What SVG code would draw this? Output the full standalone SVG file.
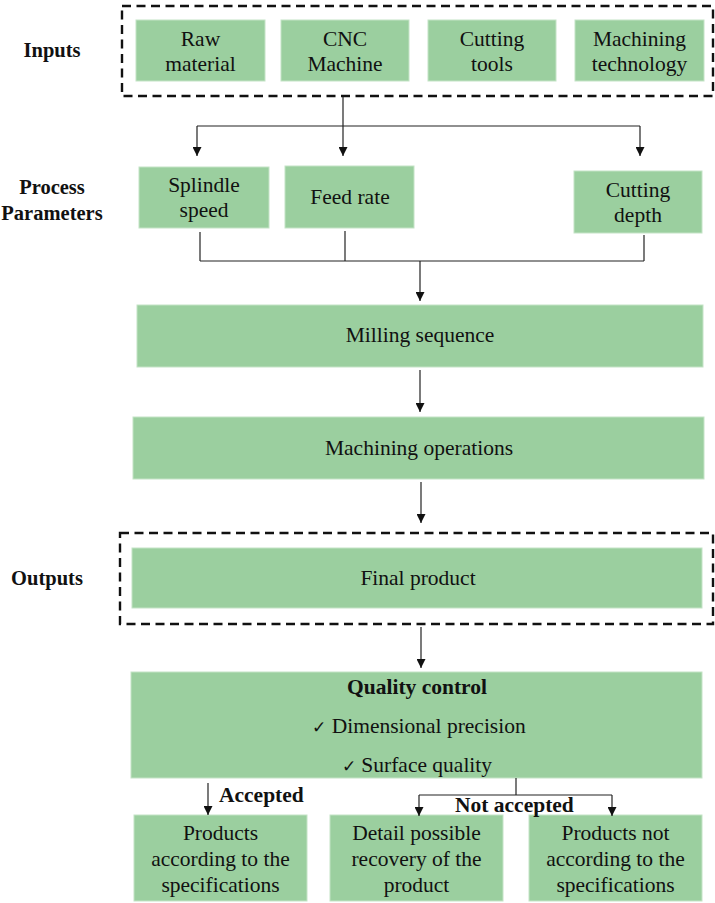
<svg xmlns="http://www.w3.org/2000/svg" width="715" height="903" viewBox="0 0 715 903">
  <defs>
    <marker id="arrow" viewBox="0 0 10 10" refX="10" refY="5" markerWidth="11" markerHeight="9" markerUnits="userSpaceOnUse" orient="auto">
      <path d="M0,0 L10,5 L0,10 z" fill="#111"/>
    </marker>
    <style>
      .box { fill: #9bcf9f; stroke: #c4e3c6; stroke-width: 1; }
      .group { fill: none; stroke: #111; stroke-width: 2.4; stroke-dasharray: 9 5.5; }
      .t { font-family: "Liberation Serif", "DejaVu Serif", serif; font-size: 21.5px; fill: #111; text-anchor: middle; }
      .lbl { font-family: "Liberation Serif", "DejaVu Serif", serif; font-size: 20.5px; font-weight: bold; fill: #111; text-anchor: middle; }
      .edge { font-family: "Liberation Serif", "DejaVu Serif", serif; font-size: 21.5px; font-weight: bold; fill: #111; }
      .b { font-weight: bold; }
      .chk { font-size: 17px; }
      .ln { fill: none; stroke: #222; stroke-width: 1.2; }
      .ar { fill: none; stroke: #222; stroke-width: 1.2; marker-end: url(#arrow); }
    </style>
  </defs>

  <rect width="715" height="903" fill="#ffffff"/>

  <!-- Row labels -->
  <g id="row-labels">
    <text class="lbl" x="52" y="57">Inputs</text>
    <text class="lbl" x="52" y="194">Process</text>
    <text class="lbl" x="52" y="220">Parameters</text>
    <text class="lbl" x="47" y="585">Outputs</text>
  </g>

  <!-- Dashed groupings -->
  <g id="inputs-group">
    <rect class="group" x="122" y="6" width="591" height="90"/>
  </g>
  <g id="outputs-group">
    <rect class="group" x="120" y="533" width="593" height="91"/>
  </g>

  <!-- Inputs -->
  <g id="raw-material">
    <rect class="box" x="136" y="20" width="129" height="61"/>
    <text class="t" x="200.5" y="46">Raw</text>
    <text class="t" x="200.5" y="71">material</text>
  </g>
  <g id="cnc-machine">
    <rect class="box" x="281" y="20" width="128" height="61"/>
    <text class="t" x="345" y="46">CNC</text>
    <text class="t" x="345" y="71">Machine</text>
  </g>
  <g id="cutting-tools">
    <rect class="box" x="428" y="20" width="128" height="61"/>
    <text class="t" x="492" y="46">Cutting</text>
    <text class="t" x="492" y="71">tools</text>
  </g>
  <g id="machining-technology">
    <rect class="box" x="575" y="20" width="129" height="61"/>
    <text class="t" x="639.5" y="46">Machining</text>
    <text class="t" x="639.5" y="71">technology</text>
  </g>

  <!-- Process parameters -->
  <g id="spindle-speed">
    <rect class="box" x="139" y="167" width="130" height="61"/>
    <text class="t" x="204" y="192">Splindle</text>
    <text class="t" x="204" y="217">speed</text>
  </g>
  <g id="feed-rate">
    <rect class="box" x="285" y="166" width="129" height="62"/>
    <text class="t" x="350" y="204">Feed rate</text>
  </g>
  <g id="cutting-depth">
    <rect class="box" x="574" y="171" width="128" height="62"/>
    <text class="t" x="638" y="197">Cutting</text>
    <text class="t" x="638" y="222">depth</text>
  </g>

  <!-- Process chain -->
  <g id="milling-sequence">
    <rect class="box" x="137" y="305" width="566" height="62"/>
    <text class="t" x="420" y="342">Milling sequence</text>
  </g>
  <g id="machining-operations">
    <rect class="box" x="133" y="417" width="571" height="62"/>
    <text class="t" x="419" y="455">Machining operations</text>
  </g>
  <g id="final-product">
    <rect class="box" x="132" y="548" width="570" height="60"/>
    <text class="t" x="418" y="585">Final product</text>
  </g>

  <!-- Quality control -->
  <g id="quality-control">
    <rect class="box" x="131" y="672" width="571" height="106"/>
    <text class="t b" x="417" y="694">Quality control</text>
    <text class="t" x="419" y="733"><tspan class="chk">✓</tspan> Dimensional precision</text>
    <text class="t" x="417" y="772"><tspan class="chk">✓</tspan> Surface quality</text>
  </g>

  <!-- Results -->
  <g id="products-accepted">
    <rect class="box" x="134" y="815" width="173" height="86"/>
    <text class="t" x="220.5" y="840">Products</text>
    <text class="t" x="220.5" y="866">according to the</text>
    <text class="t" x="220.5" y="892">specifications</text>
  </g>
  <g id="possible-recovery">
    <rect class="box" x="330" y="815" width="173" height="86"/>
    <text class="t" x="416.5" y="840">Detail possible</text>
    <text class="t" x="416.5" y="866">recovery of the</text>
    <text class="t" x="416.5" y="892">product</text>
  </g>
  <g id="products-rejected">
    <rect class="box" x="529" y="815" width="173" height="86"/>
    <text class="t" x="615.5" y="840">Products not</text>
    <text class="t" x="615.5" y="866">according to the</text>
    <text class="t" x="615.5" y="892">specifications</text>
  </g>

  <!-- Connectors -->
  <g id="connectors">
    <!-- inputs fan out to parameters -->
    <path class="ln" d="M343,97 V126"/>
    <path class="ln" d="M197,126 H640"/>
    <path class="ar" d="M197,126 V156"/>
    <path class="ar" d="M343,126 V156"/>
    <path class="ar" d="M640,126 V156"/>
    <!-- parameters merge into milling sequence -->
    <path class="ln" d="M200,232 V261"/>
    <path class="ln" d="M345,231 V261"/>
    <path class="ln" d="M644,235 V261"/>
    <path class="ln" d="M200,261 H644"/>
    <path class="ar" d="M420,261 V301"/>
    <!-- main chain -->
    <path class="ar" d="M420,370 V412"/>
    <path class="ar" d="M421,482 V523"/>
    <path class="ar" d="M421,627 V668"/>
    <!-- accepted branch -->
    <path class="ar" d="M208,783 V815"/>
    <text class="edge" x="219" y="802">Accepted</text>
    <!-- not accepted branch -->
    <path class="ln" d="M516,778 V795"/>
    <path class="ln" d="M419,795 H612"/>
    <path class="ar" d="M419,795 V816"/>
    <path class="ar" d="M612,795 V816"/>
    <text class="edge" x="455" y="812">Not accepted</text>
  </g>
</svg>
